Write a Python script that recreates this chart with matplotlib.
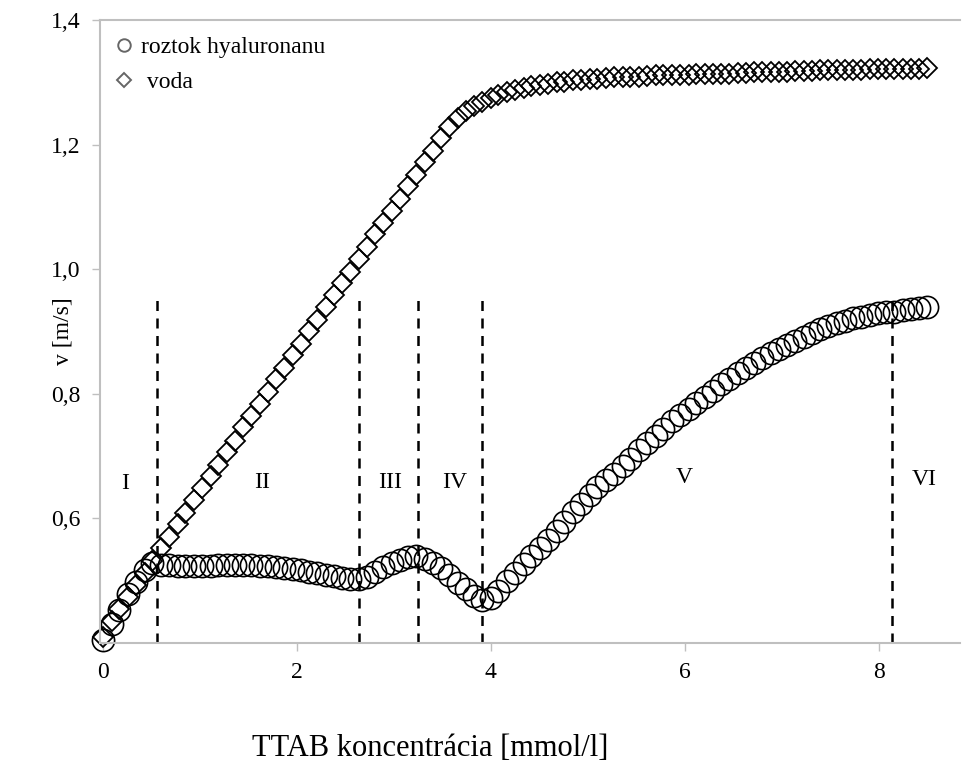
import numpy as np
import matplotlib.pyplot as plt
from matplotlib.lines import Line2D

plt.rcParams['font.family'] = ['Liberation Serif', 'DejaVu Serif']

# TTAB concentration [mmol/l]
conc = [0.0, 0.09, 0.17, 0.26, 0.34, 0.43, 0.51, 0.6, 0.68, 0.77,
        0.85, 0.94, 1.02, 1.11, 1.19, 1.28, 1.36, 1.45, 1.53, 1.62,
        1.7, 1.79, 1.87, 1.96, 2.04, 2.13, 2.21, 2.3, 2.38, 2.47,
        2.55, 2.64, 2.72, 2.81, 2.89, 2.98, 3.06, 3.15, 3.23, 3.32,
        3.4, 3.49, 3.57, 3.66, 3.74, 3.83, 3.91, 4.0, 4.08, 4.17,
        4.25, 4.34, 4.42, 4.51, 4.59, 4.68, 4.76, 4.85, 4.93, 5.02,
        5.1, 5.19, 5.27, 5.36, 5.44, 5.53, 5.61, 5.7, 5.78, 5.87,
        5.95, 6.04, 6.12, 6.21, 6.29, 6.38, 6.46, 6.55, 6.63, 6.72,
        6.8, 6.89, 6.97, 7.06, 7.14, 7.23, 7.31, 7.4, 7.48, 7.57,
        7.65, 7.74, 7.82, 7.91, 7.99, 8.08, 8.16, 8.25, 8.33, 8.42,
        8.5]

# velocity in hyaluronan solution [m/s]
v_hyaluronan = [0.405, 0.430, 0.453, 0.478, 0.498, 0.517, 0.528, 0.526, 0.525, 0.524,
                0.524, 0.524, 0.524, 0.524, 0.525, 0.525, 0.525, 0.525, 0.525, 0.524,
                0.523, 0.522, 0.521, 0.519, 0.517, 0.514, 0.512, 0.509, 0.507, 0.504,
                0.502, 0.502, 0.506, 0.514, 0.522, 0.529, 0.534, 0.538, 0.539, 0.535,
                0.529, 0.520, 0.509, 0.497, 0.486, 0.475, 0.469, 0.472, 0.484, 0.500,
                0.513, 0.527, 0.540, 0.553, 0.565, 0.580, 0.595, 0.610, 0.623, 0.638,
                0.650, 0.662, 0.672, 0.684, 0.696, 0.710, 0.721, 0.733, 0.744, 0.756,
                0.766, 0.776, 0.786, 0.795, 0.805, 0.815, 0.824, 0.833, 0.842, 0.850,
                0.857, 0.865, 0.872, 0.879, 0.885, 0.891, 0.898, 0.904, 0.909, 0.914,
                0.917, 0.921, 0.924, 0.926, 0.929, 0.931, 0.932, 0.934, 0.936, 0.937,
                0.939]

# velocity in water [m/s]
v_voda = [0.410, 0.436, 0.454, 0.474, 0.493, 0.513, 0.531, 0.552, 0.570, 0.591,
          0.609, 0.629, 0.648, 0.668, 0.686, 0.707, 0.725, 0.746, 0.764, 0.784,
          0.803, 0.823, 0.841, 0.862, 0.880, 0.901, 0.919, 0.939, 0.958, 0.978,
          0.996, 1.017, 1.035, 1.056, 1.074, 1.094, 1.113, 1.133, 1.151, 1.172,
          1.190, 1.211, 1.228, 1.243, 1.254, 1.262, 1.268, 1.274, 1.279, 1.284,
          1.287, 1.291, 1.294, 1.296, 1.298, 1.300, 1.301, 1.303, 1.304, 1.305,
          1.306, 1.307, 1.308, 1.308, 1.309, 1.309, 1.310, 1.311, 1.311, 1.311,
          1.312, 1.312, 1.313, 1.313, 1.314, 1.314, 1.314, 1.315, 1.315, 1.316,
          1.316, 1.316, 1.317, 1.317, 1.318, 1.318, 1.318, 1.319, 1.319, 1.319,
          1.320, 1.320, 1.320, 1.321, 1.321, 1.321, 1.322, 1.322, 1.322, 1.322,
          1.323]

# region boundaries (dashed lines) and labels
boundary_x = [0.56, 2.64, 3.25, 3.91, 8.14]
boundary_top = [0.95, 0.96, 0.96, 0.95, 0.955]
region_names = ['I', 'II', 'III', 'IV', 'V', 'VI']
region_x = [0.23, 1.64, 2.96, 3.63, 6.0, 8.47]
region_y = [0.656, 0.658, 0.658, 0.658, 0.665, 0.662]

fig = plt.figure(figsize=(9.73, 7.67), dpi=100)
ax = fig.add_axes([100 / 973, 124 / 767, 860 / 973, 623 / 767])

ax.plot(conc, v_voda, linestyle='none', marker='D', markersize=10.5,
        markerfacecolor='none', markeredgecolor='black', markeredgewidth=1.3,
        clip_on=False)
ax.plot(conc, v_hyaluronan, linestyle='none', marker='o', markersize=16,
        markerfacecolor='none', markeredgecolor='black', markeredgewidth=1.2,
        clip_on=False)

ax.vlines(boundary_x, 0.4, boundary_top, colors='black', linewidth=1.8,
          linestyles=(0, (4, 3)))
for name, xr, yr in zip(region_names, region_x, region_y):
    ax.text(xr, yr, name, fontsize=17, ha='center', va='center')

ax.set_xlim(-0.03, 8.84)
ax.set_ylim(0.4, 1.4)
ax.set_xticks([0, 2, 4, 6, 8])
ax.set_xticklabels(['0', '2', '4', '6', '8'])
ax.set_yticks([0.6, 0.8, 1.0, 1.2, 1.4])
ax.set_yticklabels(['0,6', '0,8', '1,0', '1,2', '1,4'])
ax.tick_params(axis='both', direction='out', length=6, width=1,
               color='#bfbfbf', labelsize=17, pad=8)

for side in ['left', 'bottom', 'top']:
    ax.spines[side].set_color('#bfbfbf')
    ax.spines[side].set_linewidth(1.5)
ax.spines['right'].set_visible(False)

ax.set_ylabel('v [m/s]', fontsize=17)
ax.yaxis.set_label_coords(-26 / 860, 0.5)
fig.text(430 / 973, 1 - 748 / 767, 'TTAB koncentrácia [mmol/l]',
         fontsize=22, ha='center', va='center')

handles = [
    Line2D([], [], linestyle='none', marker='o', markersize=9,
           markerfacecolor='none', markeredgecolor='#666666', markeredgewidth=1.4),
    Line2D([], [], linestyle='none', marker='D', markersize=7,
           markerfacecolor='none', markeredgecolor='#666666', markeredgewidth=1.4),
]
ax.legend(handles, ['roztok hyaluronanu', ' voda'], loc='upper left',
          bbox_to_anchor=(0.0, 0.992), frameon=False, fontsize=17,
          handletextpad=0.25, handlelength=1.0, borderaxespad=0.1,
          labelspacing=0.55)

fig.savefig('out.png', dpi=100)
